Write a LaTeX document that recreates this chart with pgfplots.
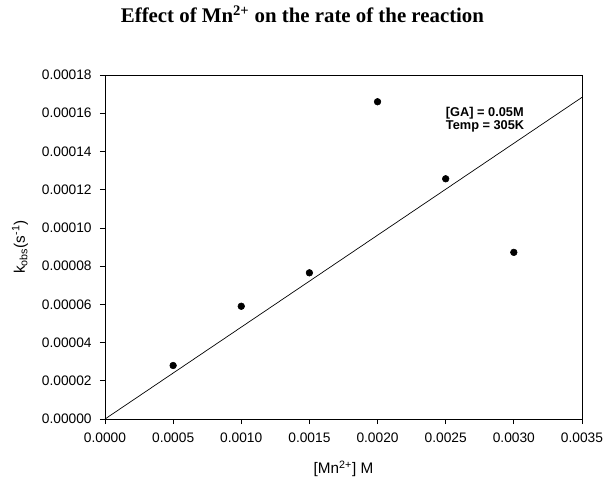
\documentclass[border=0pt]{standalone}
\usepackage{fontspec}
\setmainfont{Liberation Sans}
\newfontfamily\tnr{Liberation Serif}
\usepackage{pgfplots}
\pgfplotsset{compat=1.18}

\begin{document}
\begin{tikzpicture}
\begin{axis}[
  name=ax,
  scale only axis, width=343.4pt, height=247.7pt,
  xmin=0, xmax=0.0035, ymin=0, ymax=0.00018,
  xtick={0,0.0005,0.001,0.0015,0.002,0.0025,0.003,0.0035},
  ytick={0,0.00002,0.00004,0.00006,0.00008,0.0001,0.00012,0.00014,0.00016,0.00018},
  scaled x ticks=false, scaled y ticks=false,
  tick label style={font=\fontsize{9.9}{12}\selectfont},
  xticklabel style={yshift=-3pt, /pgf/number format/.cd, fixed, fixed zerofill, precision=4, assume math mode=true},
  yticklabel style={xshift=-2.5pt, /pgf/number format/.cd, fixed, fixed zerofill, precision=5, assume math mode=true},
  tick align=outside, tick pos=left, major tick length=3.6pt,
  axis line style={line width=0.6pt},
  every tick/.style={black, line width=0.5pt},
  xlabel={[Mn\textsuperscript{2+}] M},
  ylabel={k\textsubscript{obs}(s\textsuperscript{-1})},
  label style={font=\fontsize{11}{13}\selectfont},
  xlabel style={at={(axis description cs:0.5,-0.145)}, anchor=center},
  ylabel style={at={(axis description cs:-0.178,0.5)}, anchor=center},
  title={\tnr\bfseries Effect of Mn\textsuperscript{2+} on the rate of the reaction},
  title style={font=\fontsize{15}{17}\selectfont, at={(axis description cs:0.414,1.153)}, anchor=center},
  clip=false,
]
\addplot[only marks, mark=*, mark size=2.4pt, black] coordinates {
 (0.0005,0.0000280) (0.0010,0.0000590) (0.0015,0.0000765)
 (0.0020,0.0001660) (0.0025,0.0001257) (0.0030,0.0000872)};
\addplot[black, line width=0.5pt] coordinates {(0,0) (0.0035,0.0001683)};
\node[anchor=west, align=left, font=\fontsize{9.2}{9.5}\selectfont\bfseries, inner sep=0pt]
  at (axis cs:0.0025,0.0001567) {[GA] = 0.05M\\Temp = 305K};
\end{axis}
\pgfresetboundingbox
\path ([xshift=-75.6pt,yshift=-42.5pt]ax.south west) rectangle ([xshift=16.6pt,yshift=54pt]ax.north east);
\end{tikzpicture}
\end{document}
